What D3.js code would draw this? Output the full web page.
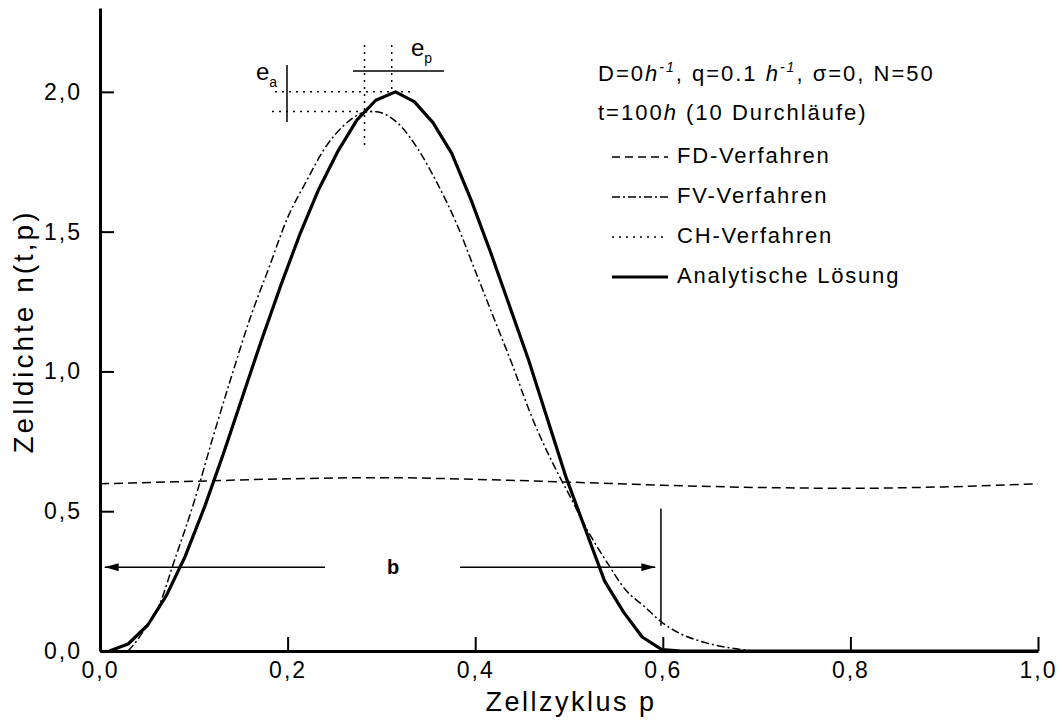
<!DOCTYPE html>
<html>
<head>
<meta charset="utf-8">
<script src="https://cdn.jsdelivr.net/npm/d3@7"></script>
<style>
  body { margin: 0; background: #fff; }
  svg text { font-family: "Liberation Sans", Arial, sans-serif; fill: #000; }
</style>
</head>
<body>
<div id="chart"></div>
<script>
// Zellzyklus p  (N=50 Zellen, Mittelpunkte)
var pAnalytisch = [0.01, 0.030, 0.051, 0.071, 0.091, 0.112, 0.132, 0.152, 0.172, 0.193,
  0.213, 0.233, 0.254, 0.274, 0.294, 0.315, 0.335, 0.355, 0.375, 0.396,
  0.416, 0.436, 0.457, 0.477, 0.497, 0.518, 0.538, 0.558, 0.578, 0.599, 0.62, 0.8, 1.0];
var nAnalytisch = [0, 0.025, 0.093, 0.20, 0.34, 0.52, 0.71, 0.91, 1.11, 1.31,
  1.49, 1.65, 1.79, 1.90, 1.97, 2.00, 1.965, 1.89, 1.78, 1.61,
  1.43, 1.24, 1.04, 0.83, 0.62, 0.43, 0.25, 0.14, 0.05, 0.005, 0, 0, 0];

// CH-Verfahren liegt auf der analytischen Lösung
var pCH = pAnalytisch;
var nCH = nAnalytisch;

var pFV = [0.03, 0.04, 0.05, 0.06, 0.08, 0.10, 0.12, 0.14, 0.16, 0.18, 0.20, 0.22, 0.24,
  0.26, 0.28, 0.29, 0.30, 0.32, 0.34, 0.36, 0.38, 0.40, 0.42, 0.44, 0.46, 0.48, 0.50,
  0.52, 0.54, 0.56, 0.58, 0.60, 0.62, 0.64, 0.66, 0.68, 0.70, 0.85, 1.0];
var nFV = [0, 0.04, 0.09, 0.14, 0.33, 0.53, 0.76, 0.98, 1.19, 1.37, 1.55, 1.68, 1.80,
  1.88, 1.925, 1.93, 1.925, 1.88, 1.79, 1.67, 1.53, 1.36, 1.19, 1.02, 0.84, 0.69, 0.56,
  0.43, 0.32, 0.22, 0.16, 0.10, 0.06, 0.035, 0.018, 0.007, 0, 0, 0];

var pFD = [0, 0.1, 0.2, 0.3, 0.4, 0.5, 0.6, 0.7, 0.8, 0.9, 1.0];
var nFD = [0.598, 0.607, 0.616, 0.62, 0.614, 0.604, 0.593, 0.585, 0.582, 0.587, 0.598];

var xMajor = [0, 0.2, 0.4, 0.6, 0.8, 1.0];
var xMinor = [0.1, 0.3, 0.5, 0.7, 0.9];
var yMajor = [0, 0.5, 1.0, 1.5, 2.0];
var yMinor = [0.25, 0.75, 1.25, 1.75, 2.25];

var legende = [
  {name: 'FD-Verfahren', dash: '8,5', w: 1.5},
  {name: 'FV-Verfahren', dash: '8,3,2,3', w: 1.5},
  {name: 'CH-Verfahren', dash: '2,5', w: 1.5},
  {name: 'Analytische Lösung', dash: null, w: 3}
];

var width = 1060, height = 722;

var svg = d3.select('#chart')
  .append('svg')
  .attr('width', width)
  .attr('height', height);

var x = d3.scaleLinear().domain([0, 1]).range([100, 1038]);
var y = d3.scaleLinear().domain([0, 2.3]).range([651, 8]);

var de = d3.formatLocale({decimal: ',', thousands: '.', grouping: [3], currency: ['', '']});
var fmt = de.format('.1f');

function zip(ps, ns) {
  return ps.map(function(p, i) { return [p, ns[i]]; });
}

var line = d3.line()
  .x(function(d) { return x(d[0]); })
  .y(function(d) { return y(d[1]); });

var smooth = d3.line()
  .x(function(d) { return x(d[0]); })
  .y(function(d) { return y(d[1]); })
  .curve(d3.curveMonotoneX);

// kurven
svg.append('path').datum(zip(pFD, nFD))
  .attr('d', smooth).attr('fill', 'none').attr('stroke', '#000')
  .attr('stroke-width', 1.5).attr('stroke-dasharray', '9,5');

svg.append('path').datum(zip(pFV, nFV))
  .attr('d', smooth).attr('fill', 'none').attr('stroke', '#000')
  .attr('stroke-width', 1.5).attr('stroke-dasharray', '8,3,2,3');

svg.append('path').datum(zip(pCH, nCH))
  .attr('d', line).attr('fill', 'none').attr('stroke', '#000')
  .attr('stroke-width', 1.5).attr('stroke-dasharray', '2,5');

svg.append('path').datum(zip(pAnalytisch, nAnalytisch))
  .attr('d', line).attr('fill', 'none').attr('stroke', '#000')
  .attr('stroke-width', 3.2).attr('stroke-linejoin', 'round');

// achsen
var gx = svg.append('g').attr('transform', 'translate(0,' + y(0) + ')');
gx.call(d3.axisBottom(x).tickValues(xMinor).tickSize(-8).tickSizeOuter(0).tickFormat(''));
gx.call(d3.axisBottom(x).tickValues(xMajor).tickSize(-14).tickSizeOuter(0).tickPadding(11).tickFormat(fmt));

var gy = svg.append('g').attr('transform', 'translate(' + x(0) + ',0)');
gy.call(d3.axisLeft(y).tickValues(yMinor).tickSize(-7).tickSizeOuter(0).tickFormat(''));
gy.call(d3.axisLeft(y).tickValues(yMajor).tickSize(-14).tickSizeOuter(0).tickPadding(18).tickFormat(fmt));

svg.selectAll('.domain').attr('stroke-width', 3);
svg.selectAll('.tick line').attr('stroke-width', 2);
svg.selectAll('.tick text')
  .style('font-size', '23px')
  .style('letter-spacing', '2px');

svg.append('text')
  .attr('x', x(0.5) + 2).attr('y', 711)
  .attr('text-anchor', 'middle')
  .style('font-size', '27px')
  .style('letter-spacing', '2.5px')
  .text('Zellzyklus p');

svg.append('text')
  .attr('transform', 'translate(33,' + (y(1.15) + 2) + ') rotate(-90)')
  .attr('text-anchor', 'middle')
  .style('font-size', '28px')
  .style('letter-spacing', '3px')
  .text('Zelldichte n(t,p)');

// legende
var lx = 612;
var t1 = svg.append('text').attr('x', lx - 14).attr('y', 81).style('font-size', '22px').style('letter-spacing', '2px');
t1.append('tspan').text('D=0');
t1.append('tspan').style('font-style', 'italic').text('h');
t1.append('tspan').attr('dy', -9).style('font-size', '14px').style('font-style', 'italic').text('-1');
t1.append('tspan').attr('dy', 9).text(', q=0.1 ');
t1.append('tspan').style('font-style', 'italic').text('h');
t1.append('tspan').attr('dy', -9).style('font-size', '14px').style('font-style', 'italic').text('-1');
t1.append('tspan').attr('dy', 9).text(', σ=0, N=50');

var t2 = svg.append('text').attr('x', lx - 14).attr('y', 120).style('font-size', '22px').style('letter-spacing', '2px');
t2.append('tspan').text('t=100');
t2.append('tspan').style('font-style', 'italic').text('h');
t2.append('tspan').text(' (10 Durchläufe)');

var leg = svg.selectAll('.leg').data(legende).enter().append('g')
  .attr('class', 'leg')
  .attr('transform', function(d, i) { return 'translate(0,' + (163 + i * 40) + ')'; });

leg.append('line')
  .attr('x1', lx).attr('x2', 668).attr('y1', -6).attr('y2', -6)
  .attr('stroke', '#000')
  .attr('stroke-width', function(d) { return d.w; })
  .attr('stroke-dasharray', function(d) { return d.dash; });

leg.append('text')
  .attr('x', 677).attr('y', 0)
  .style('font-size', '22px').style('letter-spacing', '1.8px')
  .text(function(d) { return d.name; });

// markierungen e_a, e_p
function dotted(x1, y1, x2, y2) {
  svg.append('line').attr('x1', x1).attr('y1', y1).attr('x2', x2).attr('y2', y2)
    .attr('stroke', '#000').attr('stroke-width', 1.5).attr('stroke-dasharray', '2,5');
}
dotted(275, y(2.0), 415, y(2.0));
dotted(272, y(1.93), 372, y(1.93));
dotted(x(0.282), 45, x(0.282), 150);
dotted(x(0.311), 45, x(0.311), 92);

svg.append('line').attr('x1', 287).attr('x2', 287).attr('y1', 65).attr('y2', 122)
  .attr('stroke', '#000').attr('stroke-width', 1.5);
svg.append('line').attr('x1', 353).attr('x2', 444).attr('y1', 71).attr('y2', 71)
  .attr('stroke', '#000').attr('stroke-width', 1.5);

var ea = svg.append('text').attr('x', 256).attr('y', 80).style('font-size', '24px');
ea.append('tspan').text('e');
ea.append('tspan').attr('dy', 7).style('font-size', '14px').text('a');
var ep = svg.append('text').attr('x', 411).attr('y', 56).style('font-size', '24px');
ep.append('tspan').text('e');
ep.append('tspan').attr('dy', 7).style('font-size', '14px').text('p');

// b pfeil
var defs = svg.append('defs');
defs.append('marker').attr('id', 'pfeil')
  .attr('viewBox', '0 0 14 8').attr('refX', 14).attr('refY', 4)
  .attr('markerWidth', 14).attr('markerHeight', 8)
  .attr('markerUnits', 'userSpaceOnUse').attr('orient', 'auto')
  .append('path').attr('d', 'M0,0L14,4L0,8Z').attr('fill', '#000');

svg.append('line').attr('x1', 325).attr('x2', x(0.005)).attr('y1', y(0.3)).attr('y2', y(0.3))
  .attr('stroke', '#000').attr('stroke-width', 1.5).attr('marker-end', 'url(#pfeil)');
svg.append('line').attr('x1', 460).attr('x2', x(0.592)).attr('y1', y(0.3)).attr('y2', y(0.3))
  .attr('stroke', '#000').attr('stroke-width', 1.5).attr('marker-end', 'url(#pfeil)');
svg.append('text').attr('x', 393).attr('y', y(0.3) + 7)
  .attr('text-anchor', 'middle').style('font-size', '20px').style('font-weight', 'bold').text('b');
svg.append('line').attr('x1', x(0.598)).attr('x2', x(0.598)).attr('y1', y(0.51)).attr('y2', y(0.09))
  .attr('stroke', '#000').attr('stroke-width', 1.5);
</script>
</body>
</html>
